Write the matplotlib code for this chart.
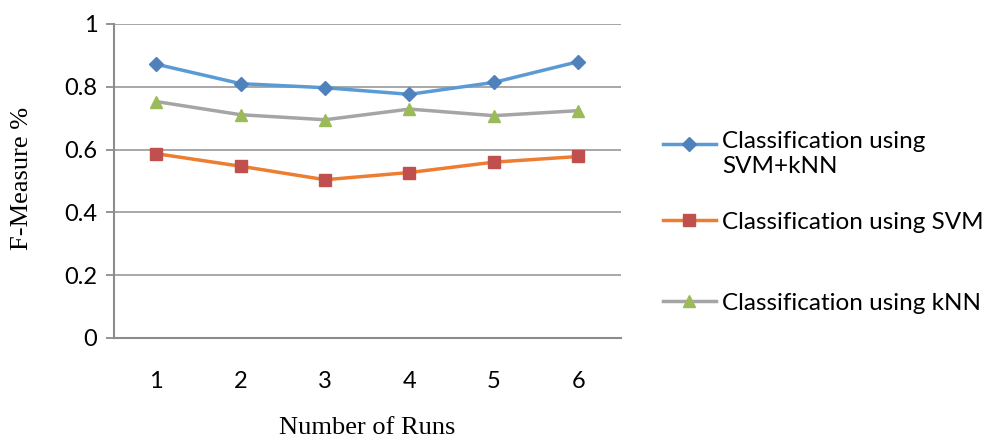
import matplotlib.pyplot as plt
import numpy as np

runs = [1, 2, 3, 4, 5, 6]
svm_knn = [0.872, 0.810, 0.797, 0.776, 0.814, 0.880]
svm = [0.587, 0.547, 0.504, 0.527, 0.560, 0.578]
knn = [0.753, 0.711, 0.695, 0.729, 0.708, 0.724]

labels = ["Classification using\nSVM+kNN", "Classification using SVM", "Classification using kNN"]
yticks = [0, 0.2, 0.4, 0.6, 0.8, 1]
ytick_labels = ["0", "0.2", "0.4", "0.6", "0.8", "1"]

fig = plt.figure(figsize=(9.82, 4.41), dpi=100)
ax = fig.add_axes([0.1161, 0.2336, 0.5158, 0.712])

l1, = ax.plot(runs, svm_knn, color="#5B9BD5", lw=2.5, marker="D", ms=7,
              mfc="#4F81BD", mec="#4F81BD", label=labels[0])
l2, = ax.plot(runs, svm, color="#ED7D31", lw=2.5, marker="s", ms=8,
              mfc="#C0504D", mec="#C0504D", label=labels[1])
l3, = ax.plot(runs, knn, color="#A5A5A5", lw=2.5, marker="^", ms=9,
              mfc="#9BBB59", mec="#9BBB59", label=labels[2])

ax.set_xlim(0.5, 6.5)
ax.set_ylim(0, 1)
ax.set_yticks(yticks)
ax.set_yticklabels(ytick_labels)
ax.set_xticks(runs)

for t in ax.get_xticklabels() + ax.get_yticklabels():
    t.set_fontfamily("Lato")
    t.set_fontsize(17)

ax.grid(axis="y", color="#A0A0A0", lw=1.3)
ax.set_axisbelow(True)
for s in ["top", "right"]:
    ax.spines[s].set_visible(False)
for s in ["left", "bottom"]:
    ax.spines[s].set_color("#8C8C8C")
    ax.spines[s].set_linewidth(1.5)
ax.tick_params(axis="y", length=6, color="#8C8C8C", width=1.3, pad=6)
ax.tick_params(axis="x", length=0, pad=24)

fig.text(0.022, 0.596, "F-Measure %", rotation=90, ha="center", va="center",
         family="Liberation Serif", fontsize=19)
fig.text(0.374, 0.03, "Number of Runs", ha="center", va="center",
         family="Liberation Serif", fontsize=19)

# one legend per series so the rows sit where they do in the original
leg_kw = dict(frameon=False, prop={"family": "Lato", "size": 17.5},
              handlelength=2.18, handletextpad=0.25, borderpad=0,
              borderaxespad=0, loc="center left")
leg1 = fig.legend(handles=[l1], bbox_to_anchor=(0.675, 0.647), handleheight=3.4, **leg_kw)
leg1.get_texts()[0].set_linespacing(1.25)
leg2 = fig.legend(handles=[l2], bbox_to_anchor=(0.675, 0.4965), **leg_kw)
leg3 = fig.legend(handles=[l3], bbox_to_anchor=(0.675, 0.3125), **leg_kw)

fig.savefig("out.png", dpi=100)
